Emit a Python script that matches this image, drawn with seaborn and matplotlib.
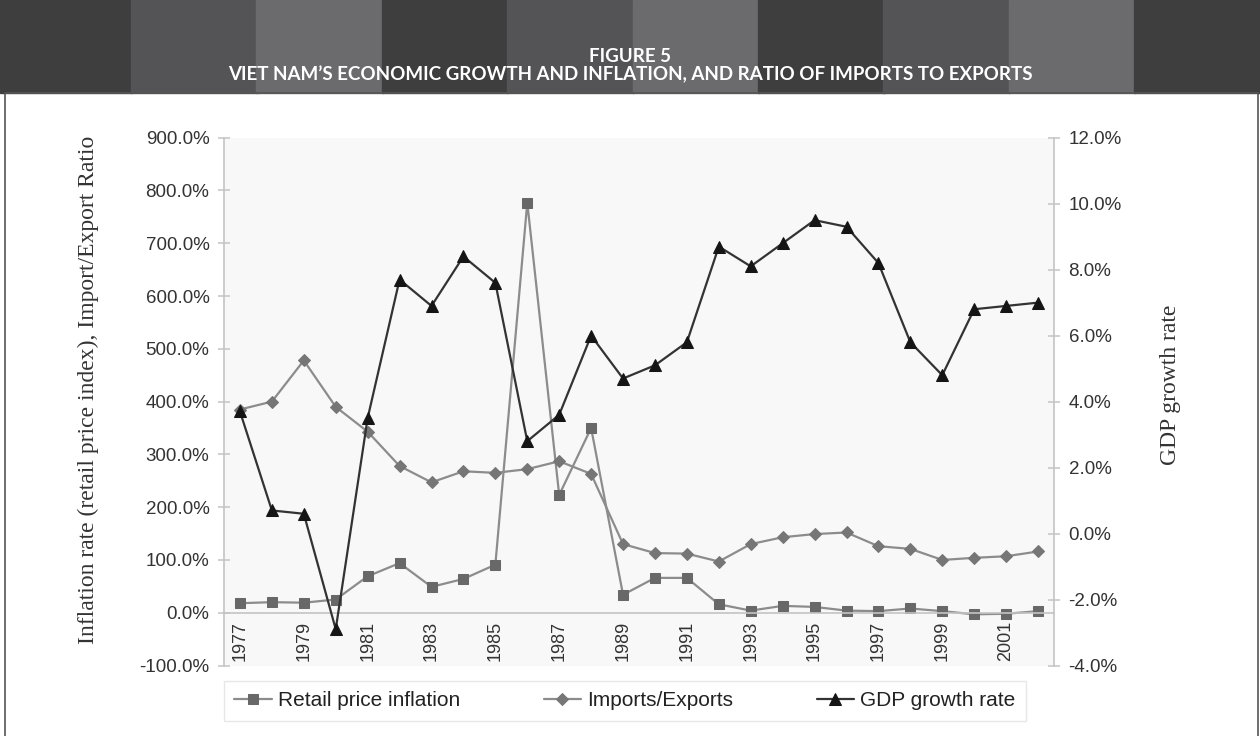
import matplotlib
matplotlib.use("Agg")
import matplotlib.pyplot as plt
from matplotlib.patches import Rectangle
from matplotlib.ticker import FuncFormatter, MultipleLocator, FixedLocator
import pandas as pd
import seaborn as sns

# values
years = list(range(1977, 2003))
retail_inflation = [18, 20, 19, 25, 69, 94, 49, 64, 91, 777, 223, 350, 34, 66,
                    66, 16, 4, 13, 11, 4, 3, 8, 3, -3, -2, 3]
imports_exports = [385, 400, 478, 390, 343, 278, 247, 268, 265, 272, 287, 263, 130,
                   113, 112, 97, 130, 143, 149, 152, 126, 121, 100, 104, 107, 116]
gdp_growth = [3.7, 0.7, 0.6, -2.9, 3.5, 7.7, 6.9, 8.4, 7.6, 2.8, 3.6, 6.0, 4.7,
              5.1, 5.8, 8.7, 8.1, 8.8, 9.5, 9.3, 8.2, 5.8, 4.8, 6.8, 6.9, 7.0]
odd_years = [y for y in years if y % 2 == 1]

title_1 = "FIGURE 5"
title_2 = "VIET NAM\u2019S ECONOMIC GROWTH AND INFLATION, AND RATIO OF IMPORTS TO EXPORTS"

df = pd.DataFrame({"year": years, "retail": retail_inflation,
                   "imports": imports_exports, "gdp": gdp_growth})

sns.set_theme(style="white")
plt.rcParams['font.family'] = ['Liberation Sans', 'DejaVu Sans']

W, H = 1260, 736
fig = plt.figure(figsize=(W / 100, H / 100), dpi=100)
fig.patch.set_facecolor("white")

# striped header band
band_cols = ["#3e3e3e", "#545456", "#6b6b6e"]
edges = [0] + [131 + k * 125.4 for k in range(9)] + [W]
for i in range(10):
    c = band_cols[i % 3]
    fig.patches.append(Rectangle((edges[i] / W, 1 - 93 / H), (edges[i + 1] - edges[i]) / W + 0.001,
                                 93 / H, transform=fig.transFigure, color=c, zorder=0))
fig.text(0.5, 1 - 57 / H, title_1, ha="center", va="center", color="white",
         fontsize=13.5, fontweight="bold", family=["Lato", "DejaVu Sans"])
fig.text(0.5, 1 - 74 / H, title_2, ha="center", va="center", color="white",
         fontsize=13.5, fontweight="bold", family=["Lato", "DejaVu Sans"])
# panel border
fig.patches.append(Rectangle((5 / W, -0.01), 1253 / W, 1 - 93 / H + 0.01,
                             transform=fig.transFigure, fill=False,
                             edgecolor="#555555", lw=1.2, zorder=0))

top, bottom, left, right = 137.7, 665.5, 224, 1054
ax = fig.add_axes([left / W, 1 - bottom / H, (right - left) / W, (bottom - top) / H])
ax.set_facecolor("#f8f8f8")

sns.lineplot(data=df, x="year", y="retail", ax=ax, color="#8c8c8c", linewidth=1.6,
             marker="s", markersize=7.5, markerfacecolor="#686868",
             markeredgecolor="#686868", label="Retail price inflation")
sns.lineplot(data=df, x="year", y="imports", ax=ax, color="#8c8c8c", linewidth=1.6,
             marker="D", markersize=6, markerfacecolor="#767676",
             markeredgecolor="#767676", label="Imports/Exports")

ax2 = ax.twinx()
sns.lineplot(data=df, x="year", y="gdp", ax=ax2, color="#333333", linewidth=1.6,
             marker="^", markersize=8.5, markerfacecolor="#151515",
             markeredgecolor="#151515", label="GDP growth rate")

ax.set_xlim(1976.5, 2002.5)
ax.set_ylim(-100, 900)
ax2.set_ylim(-4, 12)

spine_c = "#c4c4c4"
for s in ["top", "right"]:
    ax.spines[s].set_visible(False)
for s in ["top", "left", "bottom"]:
    ax2.spines[s].set_visible(False)
ax.spines["bottom"].set_position(("data", 0))
for sp in [ax.spines["left"], ax.spines["bottom"], ax2.spines["right"]]:
    sp.set_color(spine_c)
    sp.set_linewidth(1.2)

ax.yaxis.set_major_locator(MultipleLocator(100))
ax.yaxis.set_major_formatter(FuncFormatter(lambda v, p: f"{v:.1f}%"))
ax2.yaxis.set_major_locator(MultipleLocator(2))
ax2.yaxis.set_major_formatter(FuncFormatter(lambda v, p: f"{v:.1f}%"))

ax.xaxis.set_major_locator(FixedLocator(odd_years))
ax.set_xticklabels([str(y) for y in odd_years], rotation=90)
ax.xaxis.set_minor_locator(FixedLocator([y - 0.5 for y in years] + [years[-1] + 0.5]))
ax.tick_params(axis="x", which="major", length=0, pad=6, labelsize=13, labelcolor="#333333")
ax.tick_params(axis="x", which="minor", direction="inout", length=9, width=1.1, color=spine_c)
ax.tick_params(axis="y", direction="inout", length=9, width=1.1, color=spine_c,
               labelsize=13.5, labelcolor="#333333", pad=6, left=True)
ax2.tick_params(axis="y", direction="inout", length=9, width=1.1, color=spine_c,
                labelsize=13.5, labelcolor="#333333", pad=6, right=True)

ax.set_xlabel("")
ax.set_ylabel("Inflation rate (retail price index), Import/Export Ratio",
              family=["Liberation Serif"], fontsize=17, color="#333333")
ax.yaxis.set_label_coords((99 - left) / (right - left), (bottom - 390) / (bottom - top))
ax2.set_ylabel("GDP growth rate", family=["Liberation Serif"], fontsize=17,
               color="#333333", rotation=90)
ax2.yaxis.set_label_coords((1160 - left) / (right - left), (bottom - 385) / (bottom - top))

h1, l1 = ax.get_legend_handles_labels()
h2, l2 = ax2.get_legend_handles_labels()
ax.get_legend().remove()
ax2.get_legend().remove()
leg = fig.legend(h1 + h2, l1 + l2, loc="center", bbox_to_anchor=(625 / W, 1 - 701 / H),
                 ncol=3, frameon=True, fancybox=False, edgecolor="#e2e2e2",
                 fontsize=15, columnspacing=4.0, handlelength=1.8, handletextpad=0.3,
                 borderpad=0.5)
for t in leg.get_texts():
    t.set_color("#222222")

fig.savefig("out.png", dpi=100)
